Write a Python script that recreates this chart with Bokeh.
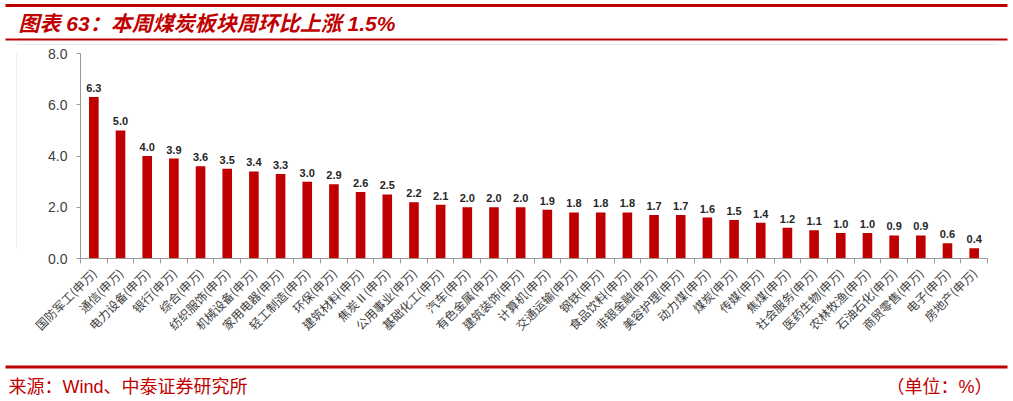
import math

from bokeh.core.properties import value
from bokeh.embed import file_html
from bokeh.layouts import column, row
from bokeh.models import ColumnDataSource, FixedTicker, Range1d
from bokeh.plotting import figure
from bokeh.resources import INLINE

# Weekly change of Shenwan industry indices, sorted high to low (%)
categories = [
    "国防军工(申万)", "通信(申万)", "电力设备(申万)", "银行(申万)", "综合(申万)",
    "纺织服饰(申万)", "机械设备(申万)", "家用电器(申万)", "轻工制造(申万)", "环保(申万)",
    "建筑材料(申万)", "焦炭Ⅱ(申万)", "公用事业(申万)", "基础化工(申万)", "汽车(申万)",
    "有色金属(申万)", "建筑装饰(申万)", "计算机(申万)", "交通运输(申万)", "钢铁(申万)",
    "食品饮料(申万)", "非银金融(申万)", "美容护理(申万)", "动力煤(申万)", "煤炭(申万)",
    "传媒(申万)", "焦煤(申万)", "社会服务(申万)", "医药生物(申万)", "农林牧渔(申万)",
    "石油石化(申万)", "商贸零售(申万)", "电子(申万)", "房地产(申万)",
]
values = [
    6.3, 5.0, 4.0, 3.9, 3.6, 3.5, 3.4, 3.3, 3.0, 2.9,
    2.6, 2.5, 2.2, 2.1, 2.0, 2.0, 2.0, 1.9, 1.8, 1.8,
    1.8, 1.7, 1.7, 1.6, 1.5, 1.4, 1.2, 1.1, 1.0, 1.0,
    0.9, 0.9, 0.6, 0.4,
]
y_ticks = [0, 2, 4, 6, 8]

title_text = "图表 63：本周煤炭板块周环比上涨 1.5%"
source_text = "来源：Wind、中泰证券研究所"
unit_text = "（单位：%）"

RED = "#c00000"
FONT = "Liberation Sans, Noto Sans CJK SC"
CJK = "Noto Sans CJK SC"


def blank(width, height):
    """A figure without axes whose data units are pixels, y growing downward."""
    f = figure(width=width, height=height, x_range=Range1d(0, width),
               y_range=Range1d(height, 0), x_axis_type=None, y_axis_type=None,
               min_border=0, toolbar_location=None, output_backend="svg")
    f.outline_line_color = None
    f.grid.visible = False
    f.border_fill_color = "white"
    f.background_fill_color = "white"
    return f


# ---- header: rules and title ----
header = blank(1013, 45)
header.segment(x0=[5, 5], y0=[5, 39], x1=[1007, 1007], y1=[5, 39],
               line_color=RED, line_width=[3, 2])
header.segment(x0=16, y0=44.5, x1=996, y1=44.5, line_color="#d9d9d9", line_width=1)
header.text(x=[18], y=[23], text=[title_text], text_color=RED,
            text_font=value(FONT), text_font_size="21px", text_font_style="bold italic",
            text_baseline="middle", text_align="left")

# ---- left border of the chart panel ----
side = blank(17, 319)
side.segment(x0=16.5, y0=0, x1=16.5, y1=304, line_color="#d9d9d9", line_width=1)

# ---- bar chart ----
n = len(categories)
centers = [i + 0.5 for i in range(n)]
src = ColumnDataSource(dict(x=centers, top=values, label=[f"{v:.1f}" for v in values]))

p = figure(width=996, height=319, x_range=Range1d(0, n), y_range=Range1d(0, 8),
           min_border_left=63, min_border_right=26, min_border_top=8, min_border_bottom=106,
           toolbar_location=None, output_backend="svg")
p.outline_line_color = None
p.grid.visible = False
p.border_fill_color = "white"
p.background_fill_color = "white"

p.vbar(x="x", top="top", width=0.36, source=src, fill_color=RED, line_color=None)
p.text(x="x", y="top", text="label", source=src, text_align="center",
       text_baseline="bottom", y_offset=-5, text_font=value("Liberation Sans"),
       text_font_size="11px", text_font_style="bold", text_color="#262626")

# y axis
p.yaxis.ticker = FixedTicker(ticks=y_ticks)
p.yaxis.major_label_overrides = {t: f"{t:.1f}" for t in y_ticks}
p.yaxis.minor_tick_line_color = None
p.yaxis.major_tick_in = 0
p.yaxis.major_tick_out = 4
p.yaxis.axis_line_color = "#999999"
p.yaxis.major_tick_line_color = "#999999"
p.yaxis.major_label_text_font = "Liberation Sans"
p.yaxis.major_label_text_font_size = "14px"
p.yaxis.major_label_text_color = "#404040"
p.yaxis.major_label_standoff = 9

# x axis: labels at bar centres, tick marks on category boundaries
p.xaxis.ticker = FixedTicker(ticks=centers, minor_ticks=list(range(n + 1)))
p.xaxis.major_label_overrides = {c: name for c, name in zip(centers, categories)}
p.xaxis.major_tick_line_color = None
p.xaxis.major_tick_in = 0
p.xaxis.major_tick_out = 0
p.xaxis.minor_tick_in = 0
p.xaxis.minor_tick_out = 5
p.xaxis.minor_tick_line_color = "#999999"
p.xaxis.axis_line_color = "#999999"
p.xaxis.major_label_orientation = math.pi / 4
p.xaxis.major_label_standoff = 7
p.xaxis.major_label_text_font = CJK
p.xaxis.major_label_text_font_size = "12px"
p.xaxis.major_label_text_color = "#404040"

# ---- footer: rule, source and unit ----
footer = blank(1013, 37)
footer.segment(x0=5, y0=2.5, x1=1007, y1=2.5, line_color=RED, line_width=3)
footer.text(x=[8], y=[22], text=[source_text], text_color=RED, text_font=value(FONT),
            text_font_size="18px", text_baseline="middle", text_align="left")
footer.text(x=[992], y=[22], text=[unit_text], text_color=RED, text_font=value(FONT),
            text_font_size="18px", text_baseline="middle", text_align="right")

layout = column(header, row(side, p, spacing=0), footer, spacing=0)

with open("out.html", "w") as fh:
    fh.write(file_html(layout, INLINE))
